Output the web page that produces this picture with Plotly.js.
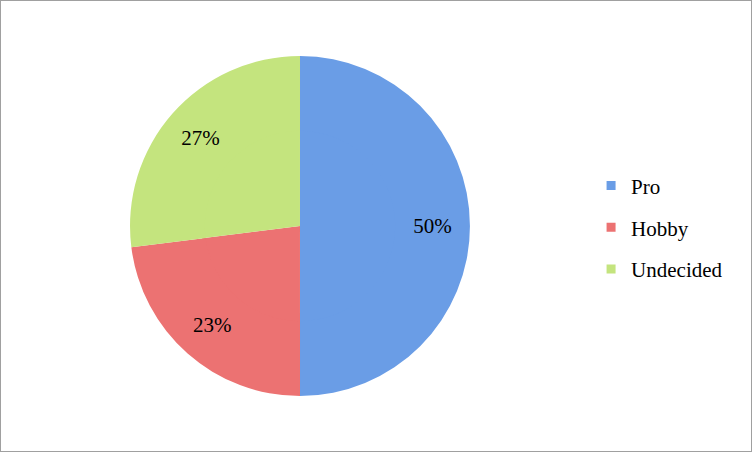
<!DOCTYPE html>
<html>
<head>
<meta charset="utf-8">
<script src="https://cdn.plot.ly/plotly-3.0.1.min.js"></script>
<style>
  html, body { margin: 0; padding: 0; background: #fff; }
  #plot { width: 752px; height: 452px; }
</style>
</head>
<body>
<div id="plot"></div>
<script>
// Chart data
const labels = ["Pro", "Hobby", "Undecided"];
const shares = [50, 23, 27];
const sliceColors = ["#6a9de6", "#ec7272", "#c4e47e"];

const serif = "Liberation Serif, serif";

// Inner disc fills the hole of the ring below, so the pie looks solid
// while the percent labels sit out toward the rim like in the original
let core = {
  type: "pie",
  labels: labels,
  values: shares,
  sort: false,
  direction: "clockwise",
  rotation: 0,
  marker: { colors: sliceColors, line: { width: 0 } },
  textinfo: "none",
  domain: { x: [0.2671, 0.5307], y: [0.2819, 0.7181] },
  showlegend: false,
  hoverinfo: "skip"
};

// Outer ring carrying the labels
let ring = {
  type: "pie",
  labels: labels,
  values: shares,
  sort: false,
  direction: "clockwise",
  rotation: 0,
  hole: 0.56,
  marker: { colors: sliceColors, line: { width: 0 } },
  textinfo: "percent",
  textposition: "inside",
  insidetextorientation: "horizontal",
  textfont: { family: serif, size: 21, color: "#000" },
  domain: { x: [0.1729, 0.625], y: [0.1239, 0.8761] },
  showlegend: false,
  hoverinfo: "label+percent"
};

// Legend-only traces (one group each so tracegroupgap sets the spacing)
let legendTraces = labels.map((name, i) => ({
  type: "scatter",
  mode: "markers",
  x: [null],
  y: [null],
  name: name,
  legendgroup: name,
  marker: { symbol: "square", size: 9, color: sliceColors[i] },
  showlegend: true,
  hoverinfo: "skip"
}));

let layout = {
  width: 752,
  height: 452,
  margin: { l: 0, r: 0, t: 0, b: 0 },
  paper_bgcolor: "#fff",
  plot_bgcolor: "#fff",
  xaxis: { visible: false },
  yaxis: { visible: false },
  showlegend: true,
  legend: {
    x: 0.786,
    xanchor: "left",
    y: 0.497,
    yanchor: "middle",
    font: { family: serif, size: 21, color: "#000" },
    tracegroupgap: 11.5,
    itemwidth: 30,
    bgcolor: "rgba(0,0,0,0)"
  },
  shapes: [{
    type: "rect",
    xref: "paper", yref: "paper",
    x0: 0, x1: 1, y0: 0, y1: 1,
    line: { color: "#a0a0a0", width: 2 }
  }]
};

Plotly.newPlot("plot", [core, ring].concat(legendTraces), layout, { displayModeBar: false, staticPlot: true });
</script>
</body>
</html>
